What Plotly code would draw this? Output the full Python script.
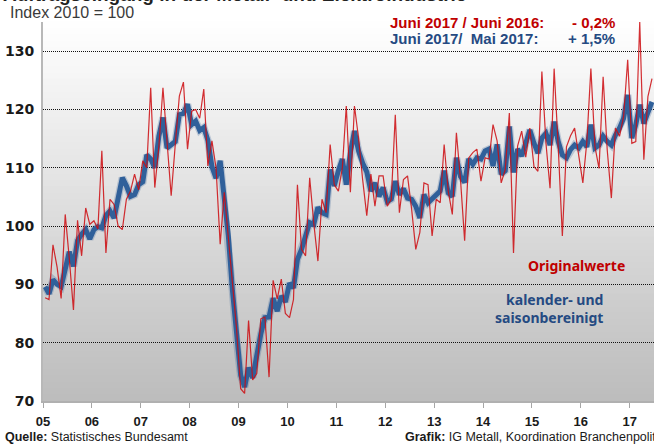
import pandas as pd
import plotly.graph_objects as go

# ---- data -------------------------------------------------------------
months = pd.date_range("2005-01-01", periods=150, freq="MS")

original = [
    87.7, 87.4, 96.8, 93.0, 87.6, 102.0, 94.4, 85.6, 101.0, 94.9, 103.1, 100.3,
    100.9, 99.5, 112.9, 95.4, 104.6, 103.7, 100.0, 99.4, 104.6, 106.0, 108.9, 106.2,
    111.2, 110.0, 123.7, 106.6, 113.7, 123.7, 114.5, 105.2, 114.0, 122.3, 124.7, 113.2,
    119.7, 120.0, 118.5, 123.5, 110.3, 114.6, 110.0, 96.9, 105.8, 98.0, 91.0, 82.5,
    72.1, 71.3, 83.8, 73.6, 74.7, 84.1, 84.4, 74.1, 90.7, 87.5, 90.9, 85.0,
    84.3, 87.4, 107.1, 96.0, 94.9, 108.3, 100.5, 94.0, 104.6, 102.3, 114.0, 107.1,
    106.0, 110.0, 120.6, 105.8, 120.6, 115.1, 108.0, 101.8, 108.9, 103.4, 108.6, 108.6,
    103.4, 104.6, 119.1, 102.3, 108.0, 108.6, 102.9, 96.0, 98.9, 107.4, 107.1, 98.3,
    104.6, 104.0, 114.0, 106.0, 102.0, 116.0, 108.0, 97.5, 111.7, 112.6, 113.2, 107.7,
    111.7, 111.5, 117.4, 114.6, 107.4, 109.7, 119.4, 95.4, 113.7, 116.3, 111.8, 116.8,
    110.2, 109.4, 126.5, 114.2, 106.5, 127.0, 113.6, 98.3, 113.6, 115.5, 116.8, 111.7,
    107.4, 114.5, 127.0, 113.6, 109.9, 125.6, 113.1, 104.8, 116.8, 115.4, 118.8, 128.5,
    114.2, 114.5, 135.0, 111.4, 122.2, 125.3,
]

adjusted = [
    89.6, 88.4, 90.8, 90.0, 89.6, 92.5, 95.6, 93.1, 97.5, 98.6, 99.4, 97.8,
    99.4, 99.9, 99.7, 101.8, 102.6, 101.4, 105.4, 108.3, 106.9, 105.1, 105.4, 107.1,
    107.6, 112.2, 111.5, 110.0, 115.4, 118.6, 113.4, 114.0, 114.5, 119.1, 119.3, 120.9,
    117.4, 118.0, 116.4, 116.9, 114.7, 110.2, 108.2, 111.2, 104.6, 98.3, 89.0, 80.5,
    74.4, 72.4, 75.7, 74.0, 78.4, 81.5, 84.3, 84.4, 87.6, 85.4, 88.0, 87.0,
    90.2, 89.4, 94.3, 96.0, 98.3, 100.6, 100.3, 103.2, 102.3, 102.0, 109.7, 106.9,
    109.5, 111.5, 107.1, 112.6, 116.3, 112.9, 110.8, 109.3, 106.0, 107.4, 105.1, 106.6,
    104.2, 104.6, 107.7, 105.4, 106.4, 104.8, 104.6, 103.4, 101.4, 105.4, 104.0, 104.6,
    105.2, 106.0, 109.5, 105.7, 105.1, 111.7, 108.5, 107.5, 111.5, 110.6, 111.7, 111.5,
    112.9, 113.2, 110.3, 114.0, 108.9, 109.5, 117.1, 109.2, 113.2, 112.0, 114.2, 116.5,
    114.2, 112.5, 115.1, 115.9, 113.9, 117.9, 114.5, 112.2, 111.7, 113.1, 113.9, 113.4,
    114.5, 113.6, 117.4, 113.4, 113.9, 115.4, 114.5, 113.9, 115.6, 116.8, 118.5, 122.5,
    115.1, 117.4, 120.8, 117.6, 119.5, 121.3,
]

y_ticks = [70, 80, 90, 100, 110, 120, 130]

# ---- figure -----------------------------------------------------------
W, H = 654, 446
ML, MR, MT, MB = 43, 0, 22, 45
PW, PH = W - ML - MR, H - MT - MB


def px(xp):
    return (xp - ML) / PW


def py(yp):
    return (H - MB - yp) / PH


fig = go.Figure()

fig.add_trace(go.Scatter(
    x=months, y=adjusted, mode="lines", xperiod="M1", xperiodalignment="middle",
    line=dict(color="rgba(47,91,148,0.25)", width=7.5), hoverinfo="skip",
    showlegend=False,
))
fig.add_trace(go.Scatter(
    x=months, y=adjusted, mode="lines", xperiod="M1", xperiodalignment="middle",
    line=dict(color="#30609a", width=5), name="kalender- und saisonbereinigt",
    showlegend=False,
))
fig.add_trace(go.Scatter(
    x=months, y=original, mode="lines", xperiod="M1", xperiodalignment="middle",
    line=dict(color="rgba(205,10,15,0.85)", width=1.2), name="Originalwerte",
    showlegend=False,
))

# gradient plot background
n = 60
for k in range(n):
    t = (k + 0.5) / n  # 0 bottom -> 1 top
    g = int(round(188 + (255 - 188) * t))
    fig.add_shape(type="rect", xref="x domain", yref="y domain",
                  x0=0, x1=1, y0=k / n, y1=(k + 1) / n + 0.002,
                  fillcolor=f"rgb({g},{g},{g})", line=dict(width=0),
                  layer="below")

red = "#c00000"
blue = "#254a82"
ann = [
    dict(text="<b>Auftragseingang in der Metall- und Elektroindustrie</b>",
         x=px(1), y=py(-5), xanchor="left", yanchor="middle",
         font=dict(size=19, color="#222222")),
    dict(text="Index 2010 = 100", x=px(8), y=py(12), xanchor="left",
         yanchor="middle", font=dict(size=16, color="#3a3a3a")),
    dict(text="<b>Juni 2017 / Juni 2016:</b>", x=px(388), y=py(22),
         xanchor="left", yanchor="middle", font=dict(size=15, color=red)),
    dict(text="<b>- 0,2%</b>", x=px(617), y=py(22), xanchor="right",
         yanchor="middle", font=dict(size=15, color=red)),
    dict(text="<b>Juni 2017/\u00a0 Mai 2017:</b>", x=px(388), y=py(39),
         xanchor="left", yanchor="middle", font=dict(size=15, color=blue)),
    dict(text="<b>+ 1,5%</b>", x=px(617), y=py(39), xanchor="right",
         yanchor="middle", font=dict(size=15, color=blue)),
    dict(text="<b>Originalwerte</b>", x=px(576), y=py(265), xanchor="center",
         yanchor="middle",
         font=dict(family="Noto Sans", size=14, color=red)),
    dict(text="<b>kalender- und<br>saisonbereinigt</b>", x=px(605), y=py(308),
         xanchor="right", yanchor="middle", align="right",
         font=dict(family="Noto Sans", size=14, color=blue)),
    dict(text="<b>Quelle:</b> Statistisches Bundesamt", x=px(3), y=py(437),
         xanchor="left", yanchor="middle",
         font=dict(size=12.5, color="#1a1a1a")),
    dict(text="<b>Grafik:</b> IG Metall, Koordination Branchenpolitik",
         x=px(403), y=py(437), xanchor="left", yanchor="middle",
         font=dict(size=12.5, color="#1a1a1a")),
]
for a in ann:
    a.update(xref="paper", yref="paper", showarrow=False)

fig.update_layout(
    width=W, height=H,
    margin=dict(l=ML, r=MR, t=MT, b=MB, pad=0),
    paper_bgcolor="white", plot_bgcolor="rgba(0,0,0,0)",
    font=dict(family="Liberation Sans", color="#1a1a1a"),
    annotations=ann,
    showlegend=False,
    xaxis=dict(
        type="date", range=["2005-01-01", "2017-07-01"],
        tick0="2005-01-01", dtick="M12", tickformat="%y",
        ticks="outside", ticklen=5, tickwidth=1, tickcolor="#a6a6a6",
        showline=True, linecolor="#b0b0b0", linewidth=2,
        showgrid=False, zeroline=False,
        tickfont=dict(family="Liberation Sans", size=13, color="#1a1a1a",
                      weight="bold"),
        ticklabelstandoff=2,
    ),
    yaxis=dict(
        range=[70, 135], tickvals=y_ticks,
        ticktext=[str(v) for v in y_ticks],
        showline=True, linecolor="#b8b8b8", linewidth=2,
        showgrid=True, gridcolor="#111111", gridwidth=1, griddash="1px,1px",
        zeroline=False, ticks="",
        tickfont=dict(family="DejaVu Sans", size=14, color="#1a1a1a",
                      weight="bold"),
        ticklabelstandoff=4,
    ),
)

fig.write_html(
    "out.html",
    config={"displayModeBar": False},
    post_script="document.body.style.margin='0';document.body.style.overflow='hidden';",
)
